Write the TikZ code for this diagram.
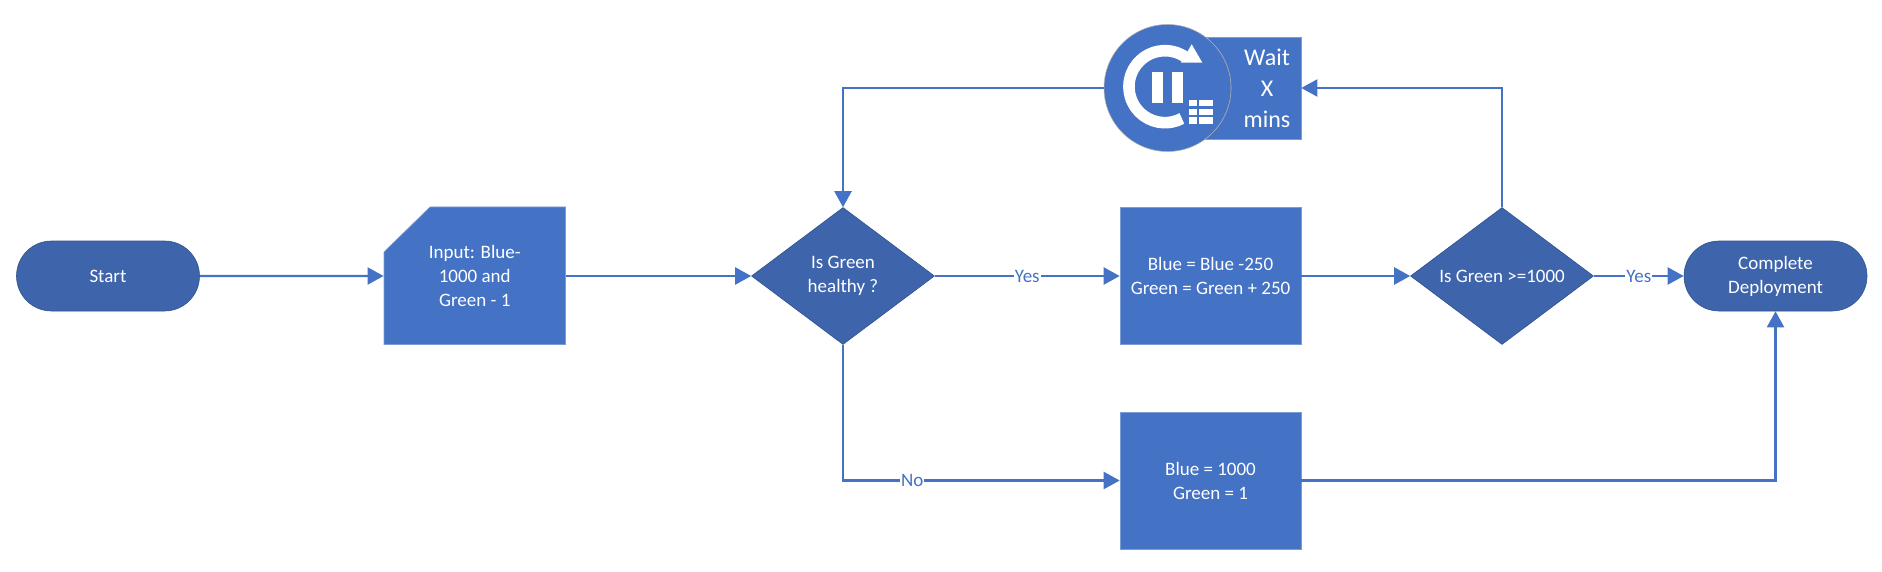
\documentclass[tikz,border=0pt]{standalone}
\usepackage{fontspec}
\setmainfont{Carlito}
\usetikzlibrary{arrows.meta,shapes.geometric,shapes.misc}
\definecolor{boxblue}{HTML}{4472C4}
\definecolor{darkblue}{HTML}{3E64AB}
\definecolor{edgeblue}{HTML}{2F528F}
\tikzset{
  flowtext/.style={text=white,font=\fontsize{9.5pt}{12pt}\selectfont,align=center,inner sep=0pt},
  terminal/.style={flowtext,rounded rectangle,fill=darkblue,draw=edgeblue,line width=0.3pt,minimum height=35pt,minimum width=91.5pt},
  decision/.style={flowtext,diamond,fill=darkblue,draw=edgeblue,line width=0.3pt,aspect=1.33,minimum width=91.5pt,minimum height=68.5pt},
  process/.style={flowtext,rectangle,fill=boxblue,draw=boxblue!70!white,line width=0.3pt,minimum width=90.5pt,minimum height=68.5pt},
  flow/.style={draw=boxblue,line width=1.1pt,-{Triangle[length=8pt,width=8.5pt]}},
  flowlabel/.style={fill=white,text=boxblue,font=\fontsize{9.5pt}{12pt}\selectfont,inner sep=0.5pt}
}
\begin{document}
\begin{tikzpicture}[x=0.5pt,y=-0.5pt]
                \useasboundingbox (0,0) rectangle (1882,572);

                \coordinate (A) at (384,252);
                \coordinate (B) at (430,207);
                \coordinate (C) at (565.5,207);
                \coordinate (D) at (565.5,344.5);
                \coordinate (E) at (384,344.5);
                \draw[fill=boxblue,draw=boxblue!70!white,line width=0.3pt] (A) -- (B) -- (C) -- (D) -- (E) -- cycle;

                \node (start) at (108,276) [terminal] {Start};
                \node (input) at (474.75,276) [flowtext,minimum width=90.75pt,minimum height=68.5pt] {Input: Blue-\\1000 and\\Green - 1};
                \node (healthy) at (843,276) [decision] {Is Green\\healthy ?};
                \node (update) at (1210.5,276) [process] {Blue = Blue -250\\Green = Green + 250};
                \node (check) at (1502,276) [decision] {Is Green >=1000};
                \node (complete) at (1775.5,276) [terminal] {Complete\\Deployment};
                \node (reset) at (1210.5,480.5) [process] {Blue = 1000\\Green = 1};
                \node (wait) at (1234,88) [process,minimum width=67pt,minimum height=51pt] {};
                \node (pause) at (1167.5,88) [circle,fill=boxblue,draw=gray!60,line width=0.3pt,minimum size=63.5pt,inner sep=0pt] {};
                \node (waittext) at (1267,88) [flowtext,font=\fontsize{12pt}{15.5pt}\selectfont] {Wait\\X\\mins};

                \draw[white,line width=5.8pt] (1185.6,57.2) arc[start angle=55,end angle=298,radius=18pt];
                \fill[white] (1191.7,44.3) -- (1202.3,62.7) -- (1181,62.7) -- cycle;
                \fill[white] (1151.7,71.7) rectangle (1162.7,103.3);
                \fill[white] (1172.3,71.7) rectangle (1183.3,103.3);
                \foreach \rowtop/\rowbot in {100/105.7,109/115,117.3/124} {
                    \fill[white] (1189.3,\rowtop) rectangle (1196.7,\rowbot);
                    \fill[white] (1199.3,\rowtop) rectangle (1213.3,\rowbot);
                }

                \draw[flow] (start) -- (input);
                \draw[flow] (input) -- (healthy);
                \draw[flow] (healthy) -- node[flowlabel] (yesa) {Yes} (update);
                \draw[flow] (update) -- (check);
                \draw[flow] (check) -- node[flowlabel] (yesb) {Yes} (complete);
                \draw[flow] (check.north) |- (wait.east);
                \draw[flow] (pause.west) -| (healthy.north);
                \draw[flow] (healthy.south) |- node[flowlabel,pos=0.625] (noa) {No} (reset.west);
                \draw[flow] (reset.east) -| (complete.south);
\end{tikzpicture}
\end{document}
